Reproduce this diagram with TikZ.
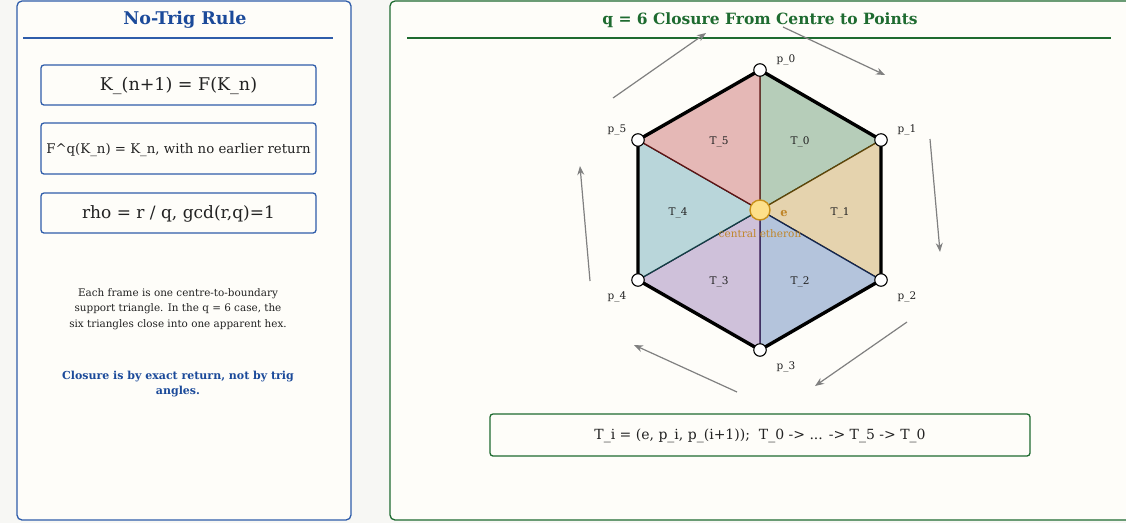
\documentclass[tikz,border=0pt]{standalone}
\usepackage{fontspec}
\setmainfont{DejaVu Serif}
\usetikzlibrary{arrows.meta}
\definecolor{bgc}{HTML}{F7F7F4}
\definecolor{panelc}{HTML}{FEFDF9}
\definecolor{blueb}{HTML}{2F5DAA}
\definecolor{bluet}{HTML}{1B4A9A}
\definecolor{greenb}{HTML}{1E6B30}
\definecolor{txt}{HTML}{222222}
\definecolor{fA}{HTML}{B6CDB9}
\definecolor{fB}{HTML}{E5D3AE}
\definecolor{fC}{HTML}{B4C4DC}
\definecolor{fD}{HTML}{CFC1DA}
\definecolor{fE}{HTML}{B9D6DA}
\definecolor{fF}{HTML}{E5B8B6}
\definecolor{lA}{HTML}{2F4F30}
\definecolor{lB}{HTML}{5E4508}
\definecolor{lC}{HTML}{14264F}
\definecolor{lD}{HTML}{33154F}
\definecolor{lE}{HTML}{143F45}
\definecolor{lF}{HTML}{5E1414}
\definecolor{eY}{HTML}{FDE08A}
\definecolor{eB}{HTML}{C8901A}
\definecolor{eT}{HTML}{C0862A}
\definecolor{arr}{HTML}{808080}
\tikzset{
  panel/.style={draw=#1, line width=1.3pt, rounded corners=5pt, fill=panelc},
  fbox/.style={draw=#1, line width=1.3pt, rounded corners=3pt, fill=panelc},
  vtx/.style={circle, draw=black, fill=white, line width=1.1pt, minimum size=12.5pt, inner sep=0pt},
  plab/.style={font=\fontsize{10.5}{12}\selectfont, text=txt},
  tlab/.style={font=\fontsize{10.5}{12}\selectfont, text=txt},
  cyc/.style={draw=arr, line width=1.2pt, -{Stealth[length=9pt,width=7pt]}},
}
\begin{document}
\begin{tikzpicture}[x=1pt,y=-1pt]
\fill[bgc] (0,0) rectangle (1126,523);
\useasboundingbox (0,0) rectangle (1126,523);
% left panel
\draw[panel=blueb] (17,1) rectangle (351,520);
\node[font=\fontsize{17.5}{20}\selectfont\bfseries, text=bluet] (lt) at (185,20) {No-Trig Rule};
\draw[blueb, line width=1.3pt] (23,38) -- (333,38);
\draw[fbox=blueb] (41,65) rectangle (316,105);
\node[font=\fontsize{17.5}{20}\selectfont, text=txt] (k1) at (178.5,86) {K\_(n+1) = F(K\_n)};
\draw[fbox=blueb] (41,123) rectangle (316,174);
\node[font=\fontsize{13.3}{16}\selectfont, text=txt] (k2) at (178.5,150) {F\textasciicircum q(K\_n) = K\_n, with no earlier return};
\draw[fbox=blueb] (41,193) rectangle (316,233);
\node[font=\fontsize{17}{20}\selectfont, text=txt] (k3) at (178.5,214) {rho = r / q, gcd(r,q)=1};
\node[font=\fontsize{10.4}{15.5}\selectfont, text=txt, align=center] (para) at (178,309) {Each frame is one centre-to-boundary\\support triangle. In the q = 6 case, the\\six triangles close into one apparent hex.};
\node[font=\fontsize{11}{15}\selectfont\bfseries, text=bluet, align=center] (note) at (178,384.5) {Closure is by exact return, not by trig\\angles.};
% right panel
\draw[panel=greenb] (390,1) rectangle (1135,520);
\node[font=\fontsize{15.5}{19}\selectfont\bfseries, text=greenb] (rt) at (760,20) {q = 6 Closure From Centre to Points};
\draw[greenb, line width=1.3pt] (407,38) -- (1111,38);
% hexagon
\coordinate (e) at (760,210);
\coordinate (p0) at (760,70);
\coordinate (p1) at (881,140);
\coordinate (p2) at (881,280);
\coordinate (p3) at (760,350);
\coordinate (p4) at (638,280);
\coordinate (p5) at (638,140);
\filldraw[fill=fA, draw=lA, line width=1.3pt] (e) -- (p0) -- (p1) -- cycle;
\filldraw[fill=fB, draw=lB, line width=1.3pt] (e) -- (p1) -- (p2) -- cycle;
\filldraw[fill=fC, draw=lC, line width=1.3pt] (e) -- (p2) -- (p3) -- cycle;
\filldraw[fill=fD, draw=lD, line width=1.3pt] (e) -- (p3) -- (p4) -- cycle;
\filldraw[fill=fE, draw=lE, line width=1.3pt] (e) -- (p4) -- (p5) -- cycle;
\filldraw[fill=fF, draw=lF, line width=1.3pt] (e) -- (p5) -- (p0) -- cycle;
\draw[black, line width=3.4pt, line join=round] (p0) -- (p1) -- (p2) -- (p3) -- (p4) -- (p5) -- cycle;
\foreach \i in {0,...,5} {\node[vtx] (v\i) at (p\i) {};}
\node[circle, fill=eY, draw=eB, line width=1.4pt, minimum size=20pt, inner sep=0pt] (en) at (e) {};
\node[font=\fontsize{11.5}{13}\selectfont\bfseries, text=eT] (elab) at (784,214) {e};
\node[font=\fontsize{10.5}{12}\selectfont, text=eT] (cen) at (760,234) {central etheron};
\node[plab] (l0) at (786,60) {p\_0};
\node[plab] (l1) at (907,130) {p\_1};
\node[plab] (l2) at (907,297) {p\_2};
\node[plab] (l3) at (786,367) {p\_3};
\node[plab] (l4) at (617,297) {p\_4};
\node[plab] (l5) at (617,130) {p\_5};
\node[tlab] (t0) at (800,142) {T\_0};
\node[tlab] (t1) at (840,213) {T\_1};
\node[tlab] (t2) at (800,282) {T\_2};
\node[tlab] (t3) at (719,282) {T\_3};
\node[tlab] (t4) at (678,213) {T\_4};
\node[tlab] (t5) at (719,142) {T\_5};
% cycle arrows
\coordinate (a1s) at (613,98); \coordinate (a1e) at (706,33);
\coordinate (a2s) at (783,27); \coordinate (a2e) at (885,75);
\coordinate (a3s) at (930,139); \coordinate (a3e) at (940,252);
\coordinate (a4s) at (907,322); \coordinate (a4e) at (815,386);
\coordinate (a5s) at (737,392); \coordinate (a5e) at (634,345);
\coordinate (a6s) at (590,281); \coordinate (a6e) at (580,166);
\draw[cyc] (a1s) -- (a1e);
\draw[cyc] (a2s) -- (a2e);
\draw[cyc] (a3s) -- (a3e);
\draw[cyc] (a4s) -- (a4e);
\draw[cyc] (a5s) -- (a5e);
\draw[cyc] (a6s) -- (a6e);
% bottom box
\draw[fbox=greenb] (490,414) rectangle (1030,456);
\node[font=\fontsize{14}{17}\selectfont, text=txt] (form) at (760,436) {T\_i = (e, p\_i, p\_(i+1));\ \ T\_0 -> ... -> T\_5 -> T\_0};
\end{tikzpicture}
\end{document}
